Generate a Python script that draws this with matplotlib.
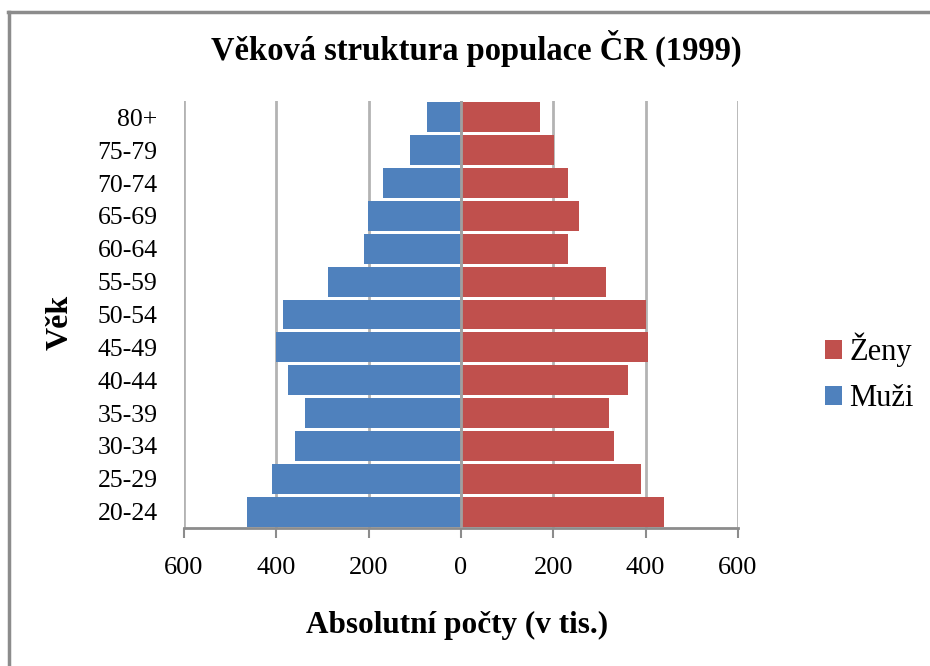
import matplotlib
matplotlib.use("Agg")
import matplotlib.pyplot as plt
from matplotlib.lines import Line2D
from matplotlib.patches import Patch
from matplotlib.ticker import FuncFormatter

plt.rcParams['font.family'] = ['Liberation Serif', 'DejaVu Serif']

categories = ["20-24", "25-29", "30-34", "35-39", "40-44", "45-49", "50-54",
              "55-59", "60-64", "65-69", "70-74", "75-79", "80+"]
muzi = [463, 410, 360, 338, 374, 400, 385, 288, 210, 201, 169, 110, 74]
zeny = [440, 390, 331, 320, 362, 405, 400, 315, 232, 255, 232, 201, 171]

blue = "#4F81BD"
red = "#C0504D"

fig = plt.figure(figsize=(9.3, 6.66), dpi=100)
fig.patch.set_facecolor("white")
ax = fig.add_axes([184/930, 1-528/666, (738-184)/930, (528-101)/666])

y = list(range(len(categories)))
ax.barh(y, [-v for v in muzi], height=0.91, color=blue, zorder=3, label="Muži")
ax.barh(y, zeny, height=0.91, color=red, zorder=3, label="Ženy")

ax.set_xlim(-600, 600)
ax.set_ylim(-0.5, len(categories) - 0.5)
ax.set_xticks(range(-600, 601, 200))
ax.xaxis.set_major_formatter(FuncFormatter(lambda v, p: f"{abs(int(v))}"))
ax.set_yticks(y)
ax.set_yticklabels(categories)

ax.grid(axis='x', color="#B3B3B3", linewidth=2, zorder=0)
ax.axvline(0, color="#A0A0A0", linewidth=2, zorder=4)
for s in ["top", "right", "left"]:
    ax.spines[s].set_visible(False)
ax.spines["bottom"].set_color("#8C8C8C")
ax.spines["bottom"].set_linewidth(2)
ax.tick_params(axis='x', length=7, width=1.5, color="#8C8C8C", labelsize=19, pad=14)
ax.tick_params(axis='y', length=0, labelsize=18.5, pad=19)

fig.text(476/930, 1 - 48/666, "Věková struktura populace ČR (1999)",
         ha="center", va="center", fontsize=23.5, fontweight="bold")
fig.text(0.5 * (184 + 738) / 930 - 0.004, 1 - 625/666, "Absolutní počty (v tis.)",
         ha="center", va="center", fontsize=22.5, fontweight="bold")
fig.text(60/930, 1 - 322/666, "Věk", ha="center", va="center", rotation=90,
         fontsize=23, fontweight="bold")

handles = [Patch(facecolor=red, label="Ženy"), Patch(facecolor=blue, label="Muži")]
leg = fig.legend(handles=handles, loc="center left", bbox_to_anchor=(825/930, 1 - 373/666),
                 frameon=False, fontsize=22, handlelength=0.55, handleheight=0.55,
                 handletextpad=0.25, labelspacing=0.55, borderpad=0, borderaxespad=0)

fig.add_artist(Line2D([8/930, 1], [1 - 11.5/666, 1 - 11.5/666], color="#8C8C8C", linewidth=2.5))
fig.add_artist(Line2D([9/930, 9/930], [0, 1 - 11.5/666], color="#8C8C8C", linewidth=2.5))

fig.savefig("out.png", dpi=100, facecolor="white")
